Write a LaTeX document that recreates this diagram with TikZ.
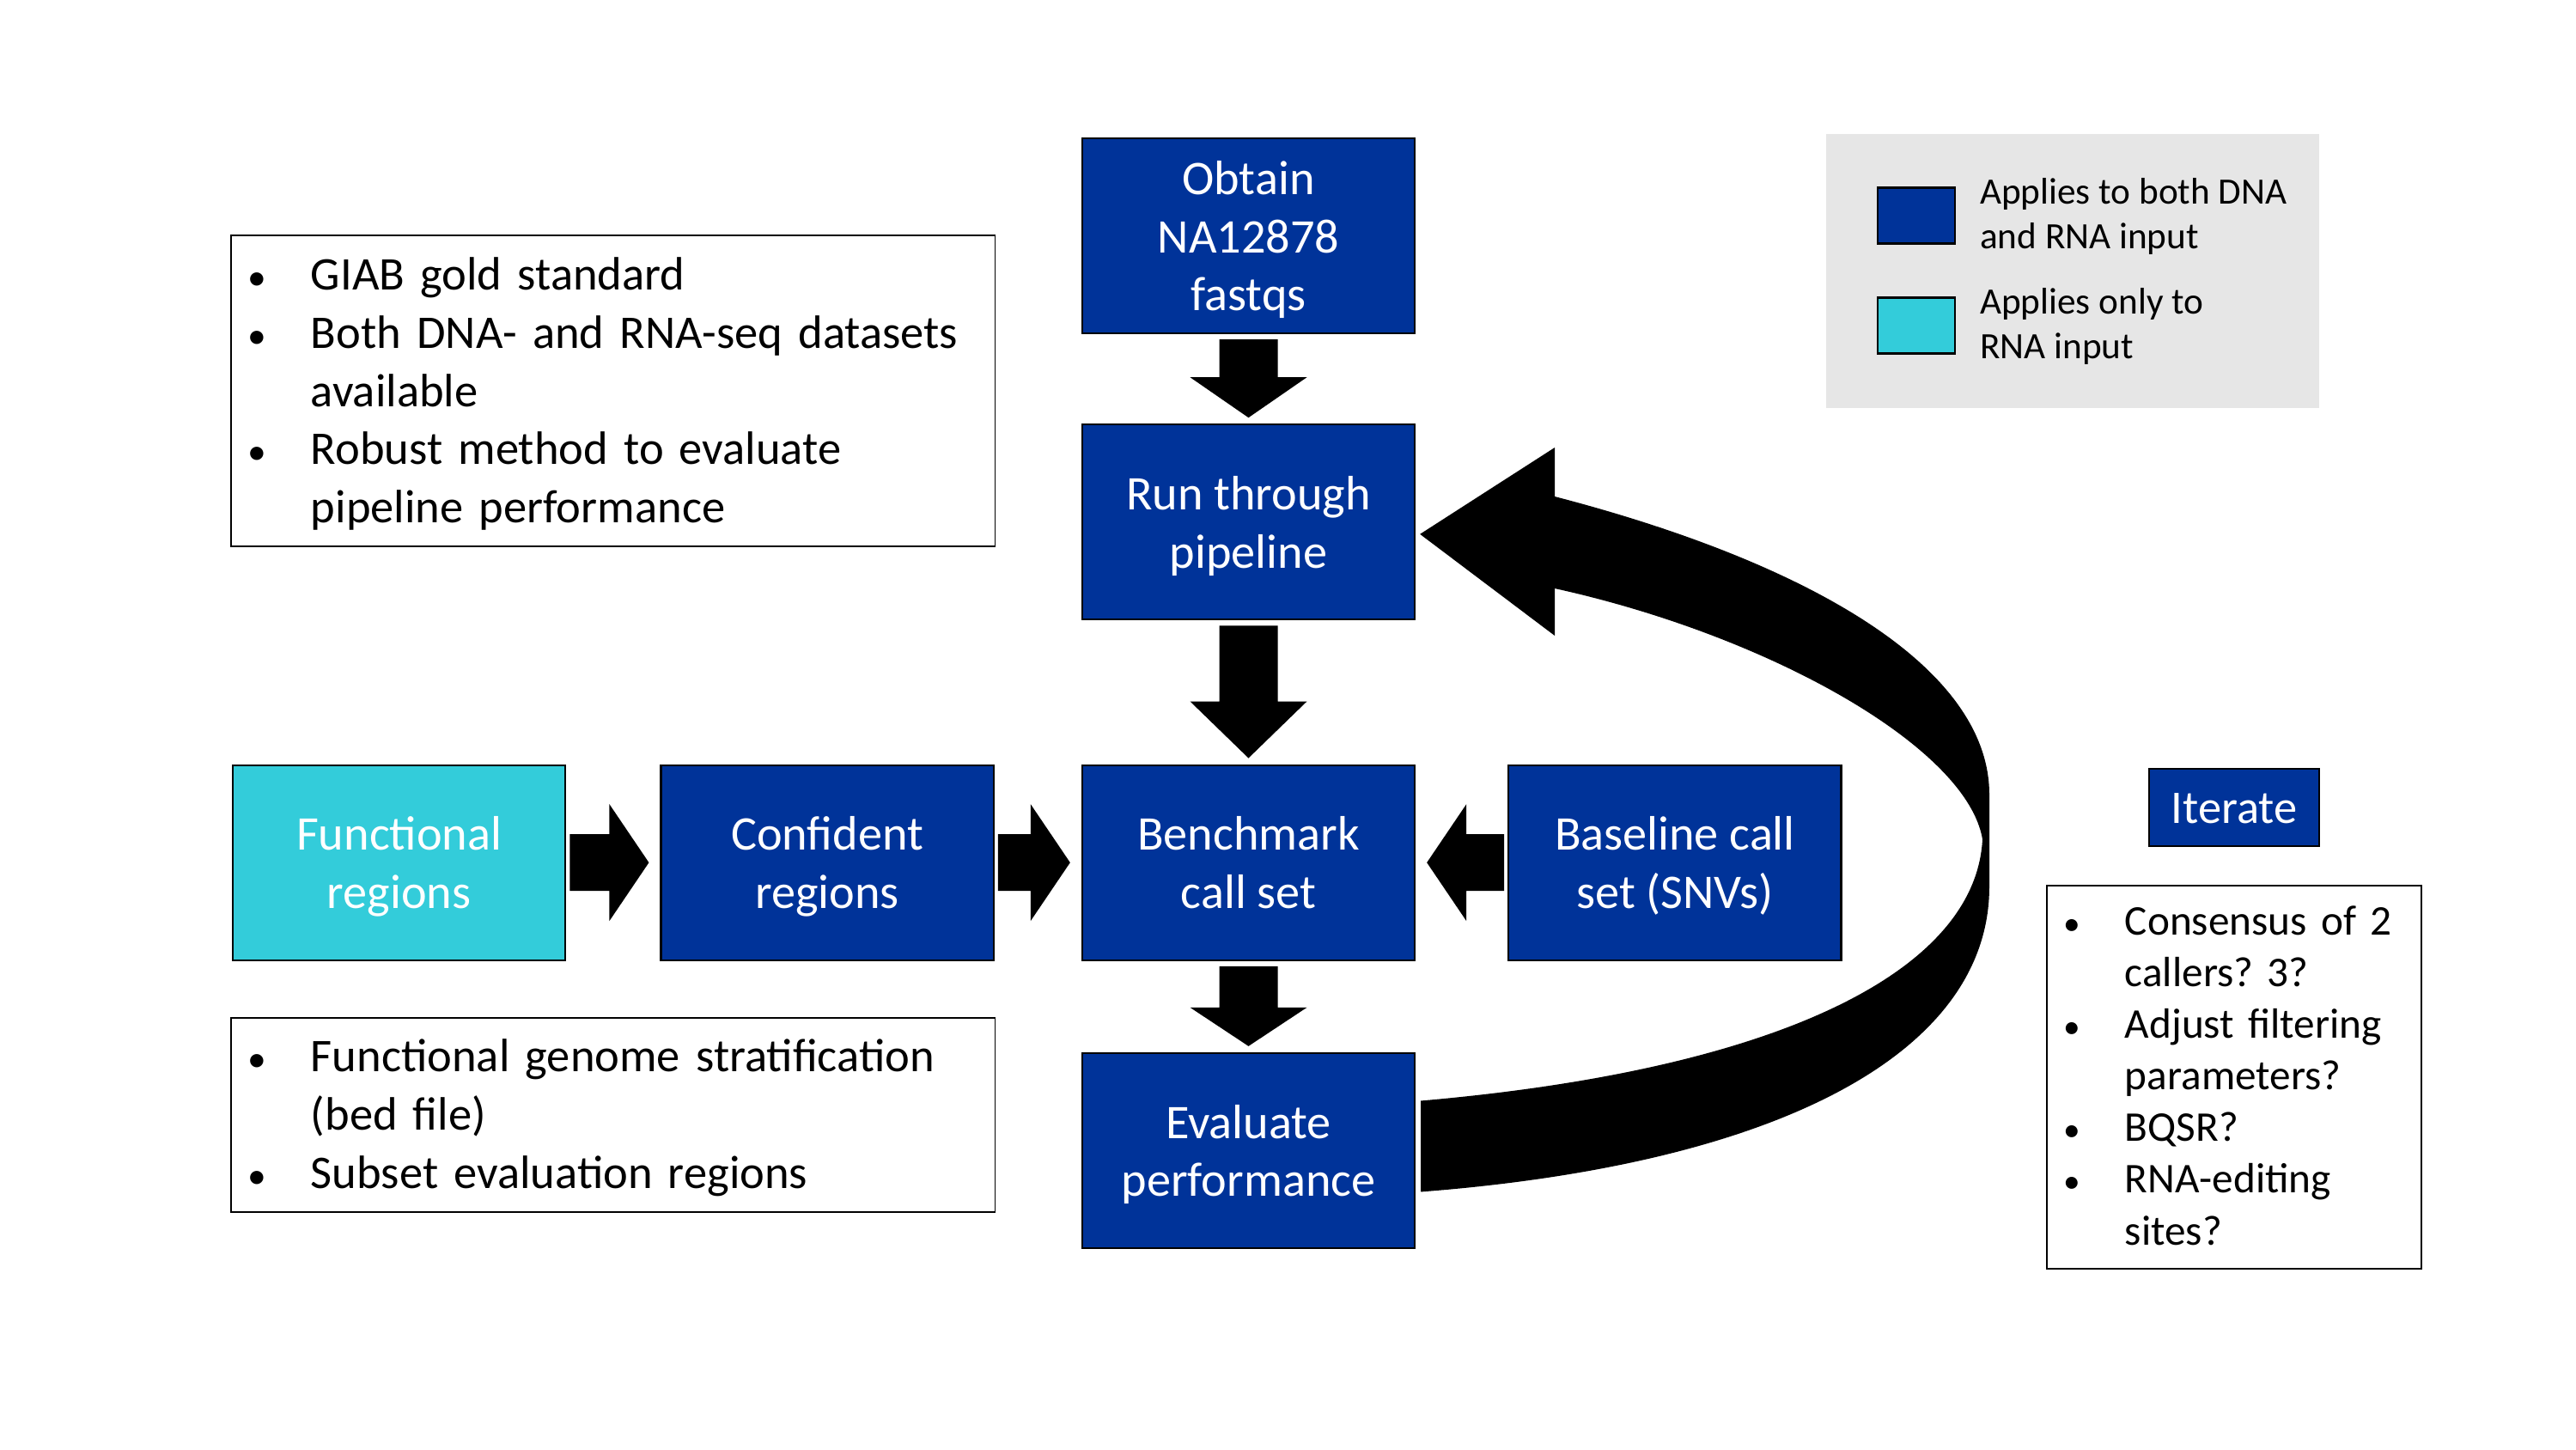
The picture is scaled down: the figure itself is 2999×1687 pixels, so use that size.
\documentclass[tikz,border=0pt]{standalone}
\usepackage{fontspec}
\setmainfont{Carlito}
\usepackage{enumitem}
\usepackage{tikz}
\usetikzlibrary{positioning,calc}
\definecolor{dnablue}{RGB}{0,51,153}
\definecolor{rnacyan}{RGB}{51,204,218}
\definecolor{keygray}{RGB}{230,230,230}
\tikzset{
  bluebox/.style = {draw=black, line width=0.6pt, fill=dnablue, text=white, align=center, inner sep=0pt},
  stepbox/.style = {bluebox, font=\fontsize{16}{19.3}\selectfont, minimum width=3.87cm, minimum height=2.27cm,
                    text depth=0pt},
  rnabox/.style  = {stepbox, fill=rnacyan},
  notebox/.style = {draw=black, line width=0.5pt, align=left, anchor=north west, inner xsep=0.2cm, inner ysep=0pt,
                    font=\fontsize{15.5}{19.3}\selectfont},
  keybox/.style  = {draw=black, line width=0.8pt, minimum width=0.9cm, minimum height=0.65cm, inner sep=0pt},
  keytext/.style = {align=left, inner sep=0pt, font=\fontsize{12.3}{14.8}\selectfont, text depth=1.2pt},
  fatflow/.style = {fill=black},
}
\setlist[itemize]{nosep, before=\raggedright\frenchspacing, label=\scalebox{0.8}{\textbullet},
                  leftmargin=0.73cm, labelsep=0.43cm, labelwidth=0.3cm, align=left}
\newcommand{\flowdown}[3]{%
  \fill[fatflow] ($(#1.south)+(-34,6)$) -- ($(#2.north)+(-34,-7-#3)$) -- ($(#2.north)+(-68,-7-#3)$)
    -- ($(#2.north)+(0,-7)$) -- ($(#2.north)+(68,-7-#3)$) -- ($(#2.north)+(34,-7-#3)$) -- ($(#1.south)+(34,6)$) -- cycle;}
\newcommand{\flowright}[2]{%
  \fill[fatflow] ($(#1.east)+(4,-33)$) -- ($(#2.west)+(-59,-33)$) -- ($(#2.west)+(-59,-68)$)
    -- ($(#2.west)+(-13,0)$) -- ($(#2.west)+(-59,68)$) -- ($(#2.west)+(-59,33)$) -- ($(#1.east)+(4,33)$) -- cycle;}
\newcommand{\flowleft}[2]{%
  \fill[fatflow] ($(#1.west)+(-4,-33)$) -- ($(#2.east)+(59,-33)$) -- ($(#2.east)+(59,-68)$)
    -- ($(#2.east)+(13,0)$) -- ($(#2.east)+(59,68)$) -- ($(#2.east)+(59,33)$) -- ($(#1.west)+(-4,33)$) -- cycle;}

\begin{document}
\begin{tikzpicture}[x=0.01cm, y=-0.01cm]
  \useasboundingbox (0,0) rectangle (2999,1687);
  \node[stepbox] (obtain) at (1453.5,274.5) {Obtain\\NA12878\\fastqs};
  \node[stepbox, below=1.04cm of obtain] (run) {Run through\\pipeline};
  \node[stepbox, below=1.67cm of run] (bench) {Benchmark\\call set};
  \node[stepbox, below=1.06cm of bench] (eval) {Evaluate\\performance};
  \node[stepbox, left=1.01cm of bench] (conf) {Confident\\regions};
  \node[rnabox, left=1.09cm of conf] (func) {Functional\\regions};
  \node[stepbox, right=1.07cm of bench] (base) {Baseline call\\set (SNVs)};

  \node[notebox, minimum height=3.62cm, text width=8.49cm] (whynote) at (268,273) {\vspace*{-6.5pt}\begin{itemize}
    \item GIAB gold standard
    \item Both DNA- and RNA-seq datasets\newline available
    \item Robust method to evaluate\newline pipeline performance
  \end{itemize}};
  \node[notebox, minimum height=2.26cm, text width=8.49cm] (bednote) at (268,1184) {\vspace*{-6.5pt}\begin{itemize}
    \item Functional genome stratification\newline (bed file)
    \item Subset evaluation regions
  \end{itemize}};

  \node[bluebox, minimum width=1.98cm, minimum height=0.9cm, font=\fontsize{15.5}{18}\selectfont,
        execute at begin node={\rule{0pt}{15.8pt}}, execute at end node=\strut] (iterate) at (2601,940) {Iterate};
  \node[notebox, below=0.44cm of iterate, text width=3.96cm, minimum height=4.46cm,
        font=\fontsize{14}{17.1}\selectfont] (ideas) {\vspace*{-8.7pt}\begin{itemize}[leftmargin=0.71cm, labelsep=0.41cm]
    \item Consensus of 2\newline callers? 3?
    \item Adjust filtering\newline parameters?
    \item BQSR?
    \item RNA-editing\newline sites?
  \end{itemize}};

  \node[fill=keygray, anchor=north west, minimum width=5.74cm, minimum height=3.19cm, inner sep=0pt] (legend) at (2125,155) {};
  \node[keybox, fill=dnablue] (keydna) at (2231,251) {};
  \node[keybox, fill=rnacyan] (keyrna) at (2231,379) {};
  \node[keytext, right=0.27cm of keydna] (keydnatext) {Applies to both DNA\\and RNA input};
  \node[keytext, right=0.27cm of keyrna] (keyrnatext) {Applies only to\\RNA input};

  \flowdown{obtain}{run}{47}
  \flowdown{run}{bench}{66}
  \flowdown{bench}{eval}{45}
  \flowright{func}{conf}
  \flowright{conf}{bench}
  \flowleft{base}{bench}

  \fill[fatflow] ($(eval.east)+(6,48)$) .. controls (2073,1355) and (2316,1225) .. (2316,1032) -- (2316,925)
    .. controls (2316,778) and (2110,656) .. (1810,578) -- (1810,521) -- ($(run.east)+(5,14)$)
    -- (1810,740) -- (1810,685) .. controls (2060,740) and (2290,870) .. (2308,977)
    .. controls (2300,1130) and (2073,1245) .. ($(eval.east)+(6,-58)$) -- cycle;
\end{tikzpicture}
\end{document}
